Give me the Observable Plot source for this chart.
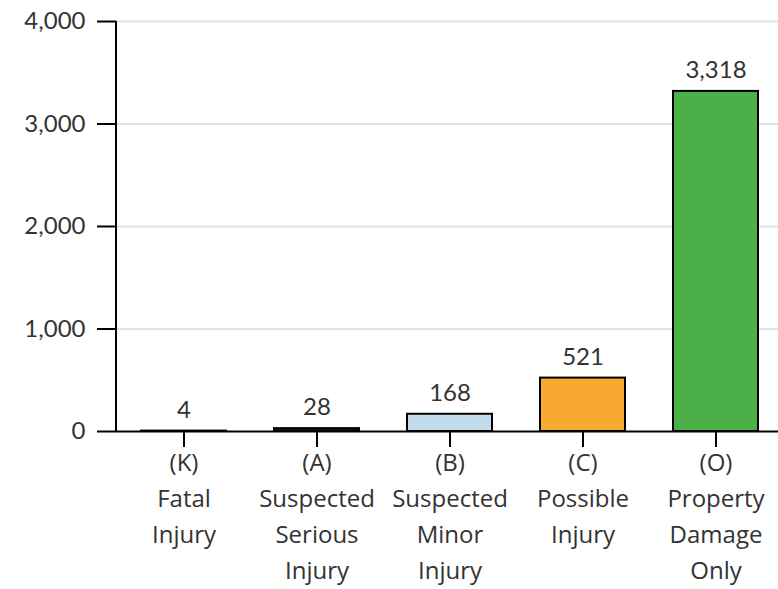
<!DOCTYPE html>
<html>
<head>
<meta charset="utf-8">
<script src="https://cdn.jsdelivr.net/npm/d3@7"></script>
<script src="https://cdn.jsdelivr.net/npm/@observablehq/plot@0.6"></script>
<style>
  html, body { margin: 0; padding: 0; background: #fff; }
  #chart svg { display: block; }
</style>
</head>
<body>
<div id="chart"></div>
<script>
const categories = ["K", "A", "B", "C", "O"];
const tickLabels = [
  "(K)\nFatal\nInjury",
  "(A)\nSuspected\nSerious\nInjury",
  "(B)\nSuspected\nMinor\nInjury",
  "(C)\nPossible\nInjury",
  "(O)\nProperty\nDamage\nOnly"
];
const counts = [4, 28, 168, 521, 3318];
const colors = ["#c0392b", "#1a1a1a", "#c3dcec", "#f8a92f", "#4caf48"];
const yTicks = [0, 1000, 2000, 3000, 4000];

const data = categories.map((c, i) => ({cat: c, value: counts[i], color: colors[i]}));
const labelOf = new Map(categories.map((c, i) => [c, tickLabels[i]]));

const chart = Plot.plot({
  width: 778,
  height: 589,
  marginLeft: 116,
  marginRight: -6,
  marginTop: 21,
  marginBottom: 158,
  style: {fontFamily: "Lato, sans-serif", fontSize: "23px", color: "#333", background: "#fff", overflow: "hidden"},
  x: {domain: categories, paddingInner: 0.36, paddingOuter: 0.18, label: null},
  y: {domain: [0, 4000], label: null},
  marks: [
    Plot.gridY(yTicks.filter(d => d > 0), {stroke: "#e2e2e2", strokeOpacity: 1, strokeWidth: 2}),
    Plot.axisY({ticks: yTicks, tickFormat: d3.format(","), tickSize: 19, tickPadding: 12, stroke: "#000", strokeWidth: 2, fill: "#333", fontSize: 24}),
    Plot.barY(data, {x: "cat", y: "value", fill: "color", stroke: "#000", strokeWidth: 2}),
    Plot.text(data, {x: "cat", y: "value", text: d => d3.format(",")(d.value), dy: -21, fill: "#333", fontSize: 24}),
    Plot.ruleY([0], {stroke: "#000", strokeWidth: 2}),
    Plot.axisX({tickFormat: d => labelOf.get(d), tickSize: 16, tickPadding: -2, stroke: "#000", strokeWidth: 2, fill: "#333", fontSize: 24, fontFamily: "Open Sans, sans-serif", lineHeight: 1.5})
  ]
});
document.getElementById("chart").appendChild(chart);

// vertical y-axis line
const svg = d3.select(chart);
svg.append("line")
  .attr("x1", 116).attr("x2", 116)
  .attr("y1", 21).attr("y2", 431)
  .attr("stroke", "#000").attr("stroke-width", 2);
</script>
</body>
</html>
